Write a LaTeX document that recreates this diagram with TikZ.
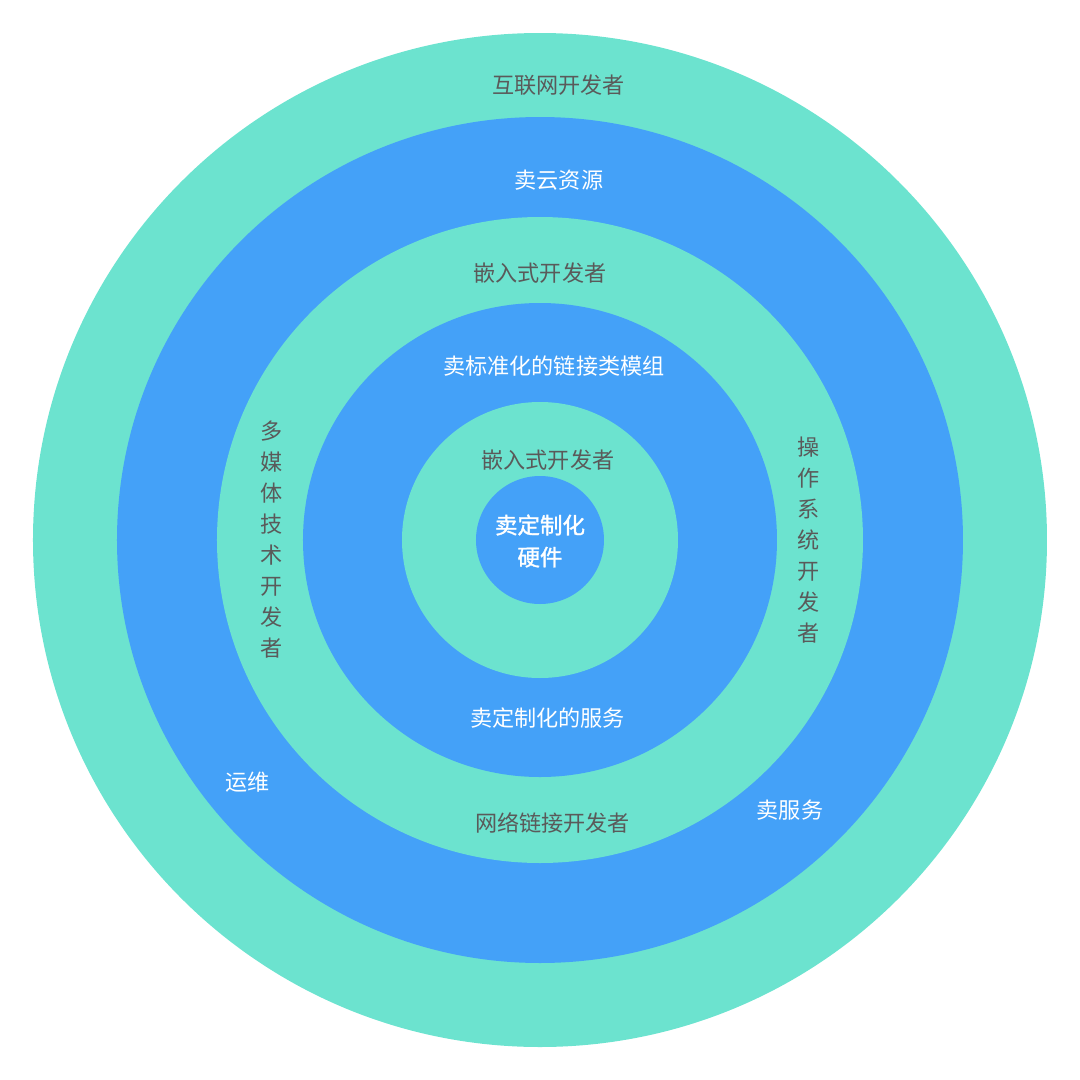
\documentclass[tikz,border=0pt]{standalone}
\usepackage{fontspec}
\setmainfont{Noto Sans CJK SC}
\newfontfamily\hwfont[FakeBold=1.3]{Noto Sans CJK SC}
\definecolor{ringgreen}{HTML}{6CE3CF}
\definecolor{ringblue}{HTML}{44A1F8}
\definecolor{labelgray}{HTML}{5A5A5A}
\begin{document}
\begin{tikzpicture}[x=0.02cm,y=0.02cm,
	dev/.style={text=labelgray,inner sep=0pt,font=\fontsize{12.6}{17.6}\selectfont},
	sell/.style={text=white,inner sep=0pt,font=\fontsize{12.6}{17.6}\selectfont},
	column/.style={align=center}]
	\useasboundingbox (-540,-540) rectangle (540,540);

	% rings, outside in
	\foreach \r/\c in {507/ringgreen,423/ringblue,323/ringgreen,237/ringblue,138/ringgreen,64/ringblue}
		\fill[\c] (0,0) circle (\r);

	\node[dev] (webdev) at (18.5,455) {互联网开发者};
	\node[sell] (cloud) at (19,360) {卖云资源};
	\node[dev] (embdev) at (0,267) {嵌入式开发者};
	\node[sell] (modules) at (14,174) {卖标准化的链接类模组};
	\node[dev] (embdevin) at (8,80) {嵌入式开发者};
	\node[sell,align=center,font=\hwfont\fontsize{12.8}{18.2}\selectfont] (hardware) at (0,-1) {卖定制化\\硬件};

	\node[dev,column] (mediadev) at (-268,0.5) {多\\媒\\体\\技\\术\\开\\发\\者};
	\node[dev,column] (osdev) at (268.5,0) {操\\作\\系\\统\\开\\发\\者};

	\node[sell] (service) at (7.5,-178) {卖定制化的服务};
	\node[dev] (netdev) at (12.5,-283) {网络链接开发者};
	\node[sell] (ops) at (-292,-242) {运维};
	\node[sell] (sellsvc) at (250,-270) {卖服务};
\end{tikzpicture}
\end{document}
